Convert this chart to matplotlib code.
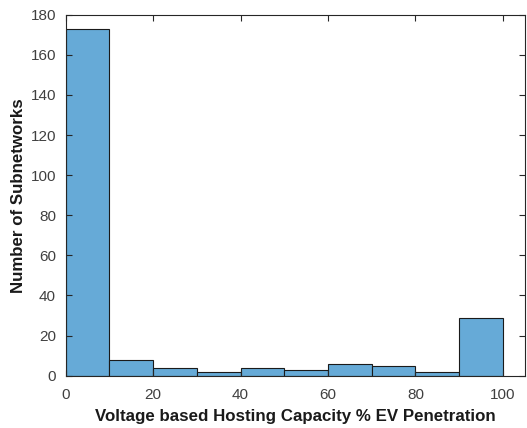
import matplotlib
matplotlib.use("Agg")
import matplotlib.pyplot as plt

plt.rcParams["font.family"] = ["Liberation Sans", "DejaVu Sans"]

bin_edges = [0, 10, 20, 30, 40, 50, 60, 70, 80, 90, 100]
counts = [173, 8, 4, 2, 4, 3, 6, 5, 2, 29]
x_ticks = [0, 20, 40, 60, 80, 100]
y_ticks = [0, 20, 40, 60, 80, 100, 120, 140, 160, 180]

fig = plt.figure(figsize=(5.27, 4.28), dpi=100)
ax = fig.add_axes([0.1247, 0.1222, 0.8709, 0.8435])

ax.hist(bin_edges[:-1], bins=bin_edges, weights=counts,
        color="#66AAD7", edgecolor="#1a1a1a", linewidth=0.8)

ax.set_xlim(0, 105)
ax.set_ylim(0, 180)
ax.set_xticks(x_ticks)
ax.set_yticks(y_ticks)

for spine in ax.spines.values():
    spine.set_color("#262626")
    spine.set_linewidth(0.8)
ax.tick_params(direction="in", top=True, right=True, length=4,
               colors="#262626", labelsize=11, width=0.8)
ax.tick_params(axis="x", pad=9)
ax.tick_params(axis="y", pad=7)
for lbl in ax.get_xticklabels() + ax.get_yticklabels():
    lbl.set_color("#404040")

ax.set_xlabel("Voltage based Hosting Capacity % EV Penetration",
              fontsize=12.2, fontweight="bold", color="#1a1a1a", labelpad=5)
ax.set_ylabel("Number of Subnetworks",
              fontsize=12.2, fontweight="bold", color="#1a1a1a", labelpad=3)

fig.savefig("out.png", dpi=100)
plt.close(fig)
